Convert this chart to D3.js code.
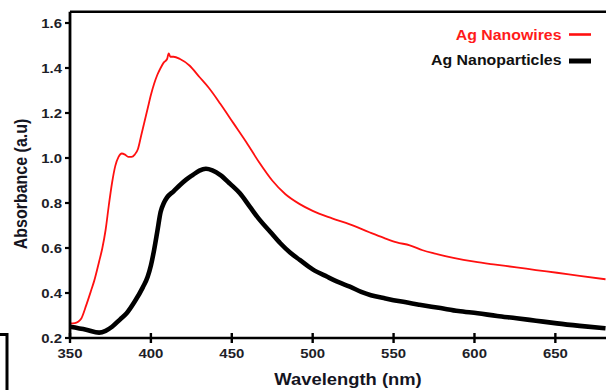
<!DOCTYPE html>
<html>
<head>
<meta charset="utf-8">
<script src="https://cdn.jsdelivr.net/npm/d3@7"></script>
<style>
  html, body { margin: 0; padding: 0; background: #fff; }
  svg { display: block; }
  text { font-family: "Liberation Sans", Arial, sans-serif; font-weight: bold; }
</style>
</head>
<body>
<svg id="chart" width="606" height="390"></svg>
<script>
// ---- data ----
const nanowiresWl = [350,353,355,357,360,363,365,368,370,372,374,376,378,380,382,384,386,388,390,392,394,396,398,400,402,404,406,408,410,411,412,414,418,424,430,436,443,451,459,467,475,483,492,500,512,523,535,544,552,560,568,575,587,600,613,626,638,651,665,681];
const nanowiresAbs = [0.265,0.266,0.272,0.287,0.345,0.41,0.455,0.54,0.60,0.68,0.79,0.89,0.965,1.005,1.02,1.015,1.005,1.005,1.015,1.04,1.10,1.16,1.22,1.28,1.33,1.37,1.40,1.425,1.44,1.465,1.45,1.45,1.44,1.41,1.36,1.31,1.24,1.155,1.07,0.98,0.90,0.84,0.795,0.765,0.732,0.705,0.67,0.645,0.625,0.612,0.59,0.576,0.556,0.539,0.526,0.514,0.502,0.49,0.476,0.461];
const particlesWl = [350,360,368,372,376,381,385,390,395,398,400,402,404,406,408,410,414,418,422,426,430,434,438,443,449,455,461,467,474,480,486,492,500,509,516,523,530,536,545,554,566,579,590,602,614,626,638,651,665,681];
const particlesAbs = [0.25,0.237,0.224,0.232,0.25,0.283,0.31,0.362,0.425,0.472,0.522,0.592,0.675,0.76,0.80,0.825,0.852,0.88,0.905,0.925,0.944,0.952,0.945,0.924,0.885,0.843,0.785,0.727,0.67,0.621,0.58,0.547,0.505,0.472,0.448,0.428,0.405,0.39,0.376,0.363,0.348,0.333,0.32,0.31,0.298,0.288,0.277,0.265,0.254,0.243];
const xTicks = [350,400,450,500,550,600,650];
const yTicks = [0.2,0.4,0.6,0.8,1.0,1.2,1.4,1.6];
const seriesNames = ["Ag Nanowires","Ag Nanoparticles"];

// ---- layout ----
const svg = d3.select("#chart");
const SX = 1.15; // horizontal stretch of the original image text
const x = d3.scaleLinear().domain([350, 681.3]).range([70, 606]);
const y = d3.scaleLinear().domain([0.2, 1.65]).range([338, 11.75]);
const tickColor = "#1e1e28";

function stretchedText(g, tx, ty, str, anchor, size, color) {
  return g.append("text")
    .attr("transform", `translate(${tx},${ty}) scale(${SX},1)`)
    .attr("text-anchor", anchor)
    .attr("font-size", size)
    .attr("fill", color)
    .text(str);
}

// curves
const line = d3.line().x(d => x(d[0])).y(d => y(d[1])).curve(d3.curveMonotoneX);
const nwData = nanowiresWl.map((w, i) => [w, nanowiresAbs[i]]);
const npData = particlesWl.map((w, i) => [w, particlesAbs[i]]);

svg.append("path").datum(npData).attr("d", line)
  .attr("fill", "none").attr("stroke", "#000").attr("stroke-width", 4.6)
  .attr("stroke-linejoin", "round");
svg.append("path").datum(nwData).attr("d", line)
  .attr("fill", "none").attr("stroke", "#ff1010").attr("stroke-width", 1.8)
  .attr("stroke-linejoin", "round");

// axes
const axG = svg.append("g");
// top border
axG.append("line").attr("x1", x(350)).attr("x2", 606).attr("y1", y(1.65)).attr("y2", y(1.65))
  .attr("stroke", "#000").attr("stroke-width", 2.6);
// left axis
axG.append("line").attr("x1", x(350)).attr("x2", x(350)).attr("y1", y(1.65)).attr("y2", y(0.2))
  .attr("stroke", "#000").attr("stroke-width", 2.8);
// bottom axis
axG.append("line").attr("x1", x(350) - 1).attr("x2", 606).attr("y1", y(0.2)).attr("y2", y(0.2))
  .attr("stroke", "#000").attr("stroke-width", 2.6);

// x ticks (crossing)
axG.selectAll(".xt").data(xTicks).join("line")
  .attr("x1", d => x(d)).attr("x2", d => x(d))
  .attr("y1", y(0.2) - 5).attr("y2", y(0.2) + 5)
  .attr("stroke", "#000").attr("stroke-width", 2.4);
xTicks.forEach(t => stretchedText(axG, x(t), 358, String(t), "middle", 13, tickColor));

// y ticks (outer)
axG.selectAll(".yt").data(yTicks).join("line")
  .attr("x1", x(350) - 5).attr("x2", x(350))
  .attr("y1", d => y(d)).attr("y2", d => y(d))
  .attr("stroke", "#000").attr("stroke-width", 2.2);
yTicks.forEach(t => stretchedText(axG, 62, y(t) + 4.6, t.toFixed(1), "end", 13, tickColor));

// axis titles
stretchedText(svg, 348, 385, "Wavelength (nm)", "middle", 16, "#15151f");
svg.append("text")
  .attr("transform", `translate(27,184) rotate(-90) scale(1,${SX})`)
  .attr("text-anchor", "middle").attr("font-size", 16).attr("fill", "#15151f")
  .text("Absorbance (a.u)");

// legend
const lg = svg.append("g");
stretchedText(lg, 561.5, 40, seriesNames[0], "end", 13.8, "#ff1a1a");
lg.append("line").attr("x1", 569).attr("x2", 591).attr("y1", 34.5).attr("y2", 34.5)
  .attr("stroke", "#ff1010").attr("stroke-width", 2.6);
stretchedText(lg, 561.5, 65, seriesNames[1], "end", 13.8, "#111");
lg.append("line").attr("x1", 569).attr("x2", 591).attr("y1", 61).attr("y2", 61)
  .attr("stroke", "#000").attr("stroke-width", 5);

// fragment of neighbouring panel frame (bottom-left corner)
svg.append("path").attr("d", "M0,334.5 H7 V390")
  .attr("fill", "none").attr("stroke", "#000").attr("stroke-width", 3);
</script>
</body>
</html>
